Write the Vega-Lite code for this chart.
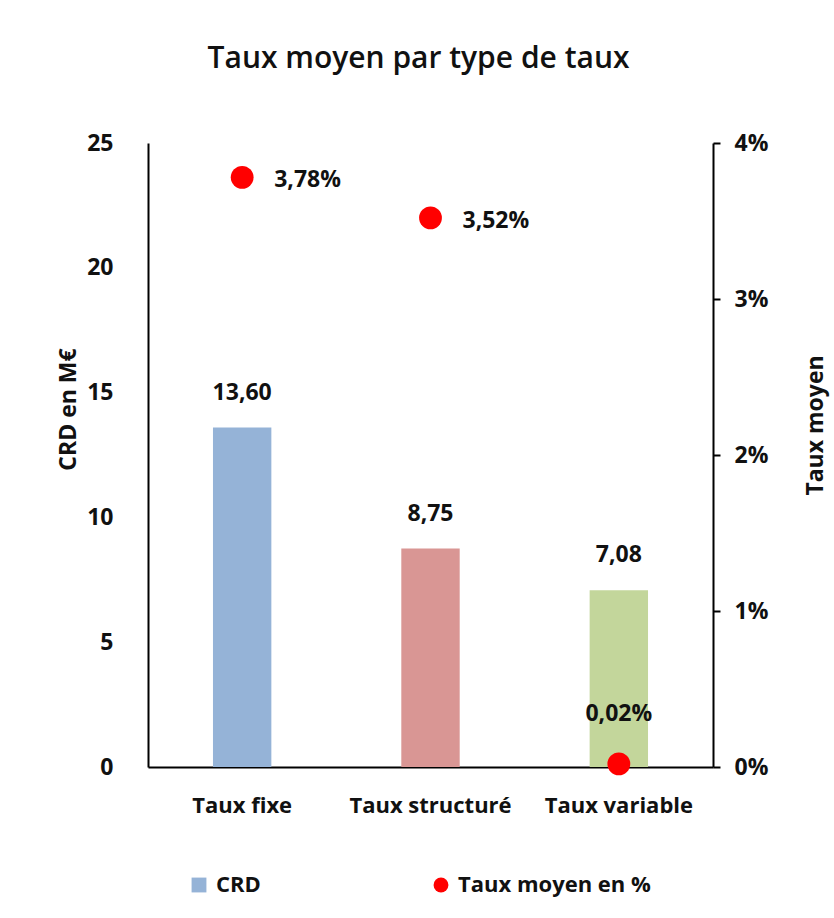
{
  "$schema": "https://vega.github.io/schema/vega-lite/v6.json",
  "autosize": {"type": "none"},
  "width": 565,
  "height": 624,
  "padding": {"left": 148, "top": 143, "right": 121, "bottom": 151},
  "background": "white",
  "config": {
    "font": "Open Sans",
    "view": {"stroke": null},
    "locale": {"number": {"decimal": ",", "thousands": " ", "grouping": [3], "currency": ["", " €"]}},
    "axis": {"grid": false, "domainColor": "#000000", "domainWidth": 2, "tickColor": "#000000", "tickWidth": 2, "labelColor": "#111111", "labelFont": "Open Sans", "labelFontWeight": "bold", "labelFontSize": 23, "titleFont": "Open Sans", "titleFontWeight": "bold", "titleFontSize": 23, "titleColor": "#111111"}
  },
  "title": {"text": "Taux moyen par type de taux", "font": "Open Sans", "fontSize": 30, "fontWeight": 600, "color": "#111111", "anchor": "middle", "frame": "group", "dx": -12, "offset": 58},
  "data": {"values": [
    {"type": "Taux fixe", "crd": 13.60, "taux": 0.0378},
    {"type": "Taux structuré", "crd": 8.75, "taux": 0.0352},
    {"type": "Taux variable", "crd": 7.08, "taux": 0.0002}
  ]},
  "encoding": {
    "x": {"field": "type", "type": "nominal", "sort": null, "scale": {"paddingInner": 0, "paddingOuter": 0},
      "axis": {"title": null, "labelAngle": 0, "ticks": false, "labelPadding": 28, "labelFontSize": 22, "labelFontWeight": "bold"}}
  },
  "layer": [
    {
      "layer": [
        {
          "mark": {"type": "bar", "width": {"band": 0.31}},
          "encoding": {
            "y": {"field": "crd", "type": "quantitative", "scale": {"domain": [0, 25], "nice": false},
              "axis": {"orient": "left", "values": [0, 5, 10, 15, 20, 25], "ticks": false, "labelPadding": 35, "title": "CRD en M€", "titleX": -80, "titleY": 266, "titleAngle": 270, "titleBaseline": "middle", "titleAlign": "center"}},
            "color": {"field": "type", "type": "nominal", "scale": {"domain": ["Taux fixe", "Taux structuré", "Taux variable"], "range": ["#95B3D7", "#D99694", "#C3D69B"]}, "legend": null}
          }
        },
        {
          "mark": {"type": "text", "baseline": "middle", "dy": -35, "fontSize": 23, "fontWeight": "bold", "color": "#111111"},
          "encoding": {
            "y": {"field": "crd", "type": "quantitative"},
            "text": {"field": "crd", "type": "quantitative", "format": ".2f"}
          }
        }
      ]
    },
    {
      "layer": [
        {
          "mark": {"type": "point", "filled": true, "size": 520, "opacity": 1},
          "encoding": {
            "y": {"field": "taux", "type": "quantitative", "scale": {"domain": [0, 0.04], "nice": false},
              "axis": {"orient": "right", "values": [0, 0.01, 0.02, 0.03, 0.04], "format": ".0%", "tickSize": 7, "labelPadding": 14, "title": "Taux moyen", "titleX": 102, "titleY": 282, "titleAngle": 270, "titleBaseline": "middle", "titleAlign": "center"}},
            "color": {"datum": "Taux moyen en %", "type": "nominal",
              "scale": {"domain": ["CRD", "Taux moyen en %"], "range": ["#95B3D7", "#FF0000"]},
              "legend": {"title": null, "orient": "none", "direction": "horizontal", "legendX": 40, "legendY": 731, "labelFontSize": 22, "labelFont": "Open Sans", "labelFontWeight": "bold", "labelColor": "#111111", "labelLimit": 400, "symbolSize": 220, "labelOffset": 6, "columnPadding": 169, "symbolOpacity": 1}},
            "shape": {"datum": "Taux moyen en %", "type": "nominal",
              "scale": {"domain": ["CRD", "Taux moyen en %"], "range": ["square", "circle"]},
              "legend": {"title": null, "orient": "none", "direction": "horizontal", "legendX": 40, "legendY": 731, "labelFontSize": 22, "labelFont": "Open Sans", "labelFontWeight": "bold", "labelColor": "#111111", "labelLimit": 400, "symbolSize": 220, "labelOffset": 6, "columnPadding": 169, "symbolOpacity": 1}}
          }
        },
        {
          "transform": [{"filter": "datum.taux > 0.001"}],
          "mark": {"type": "text", "align": "left", "baseline": "middle", "dx": 32, "dy": 3, "fontSize": 23, "fontWeight": "bold", "color": "#111111"},
          "encoding": {
            "y": {"field": "taux", "type": "quantitative"},
            "text": {"field": "taux", "type": "quantitative", "format": ".2%"}
          }
        },
        {
          "transform": [{"filter": "datum.taux <= 0.001"}],
          "mark": {"type": "text", "align": "center", "baseline": "middle", "dy": -50, "fontSize": 23, "fontWeight": "bold", "color": "#111111"},
          "encoding": {
            "y": {"field": "taux", "type": "quantitative"},
            "text": {"field": "taux", "type": "quantitative", "format": ".2%"}
          }
        }
      ]
    }
  ],
  "resolve": {"scale": {"y": "independent", "color": "independent", "shape": "independent"}}
}
